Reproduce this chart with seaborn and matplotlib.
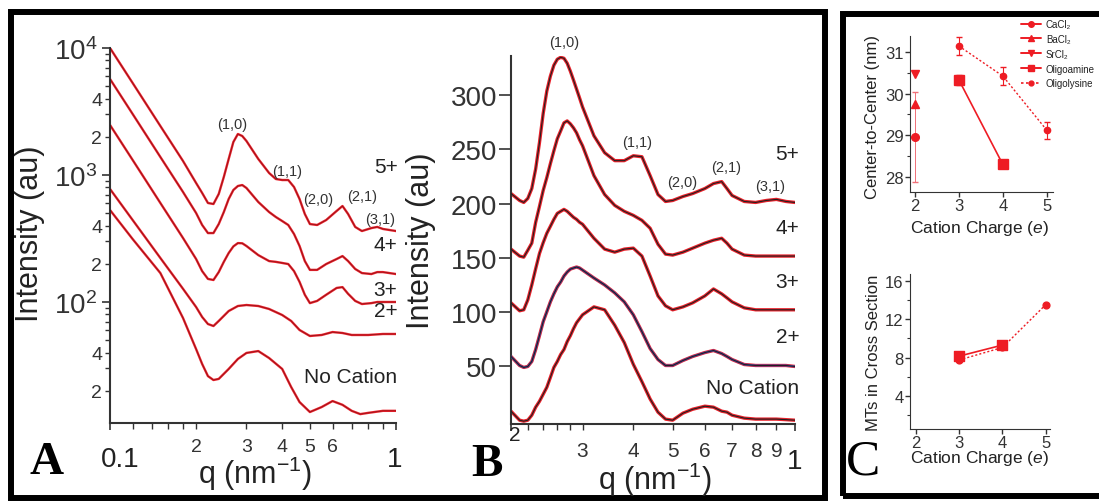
import matplotlib
matplotlib.use("Agg")
import matplotlib.pyplot as plt
import seaborn as sns
from matplotlib.patches import Rectangle
from matplotlib.lines import Line2D
from matplotlib.ticker import FixedLocator, FixedFormatter

# ---- panel A: log-log profiles, q in nm^-1 ----
qA_hi = [0.10, 0.12, 0.15, 0.18, 0.20, 0.21, 0.22, 0.23, 0.24, 0.25, 0.26, 0.27, 0.28, 0.29, 0.30, 0.33, 0.36,
         0.38, 0.40, 0.42, 0.44, 0.46, 0.48, 0.50, 0.53, 0.57, 0.62, 0.65, 0.68, 0.72, 0.76, 0.82, 0.86, 0.90, 1.00]
A_5 = [10000, 5302, 2431, 1289, 865, 722, 602, 591, 709, 965, 1337, 1819, 2103, 2028, 1852, 1337, 1037,
       930, 913, 913, 804, 647, 493, 411, 404, 442, 521, 570, 493, 390, 362, 382, 390, 376, 362]
A_4 = [5700, 3022, 1386, 735, 502, 404, 349, 349, 411, 511, 647, 762, 819, 834, 790, 613, 511,
       467, 434, 404, 343, 276, 210, 179, 179, 199, 218, 230, 210, 182, 169, 166, 172, 172, 166]
A_3 = [2476, 1313, 602, 319, 218, 175, 152, 149, 172, 207, 243, 274, 291, 290, 276, 234, 210,
       207, 203, 199, 175, 144, 114, 98, 102, 114, 129, 131, 116, 102, 96.4, 98, 100, 100, 100]
qA_lo = [0.10, 0.12, 0.15, 0.18, 0.20, 0.21, 0.22, 0.23, 0.24, 0.26, 0.28, 0.30, 0.33, 0.36, 0.40,
         0.43, 0.46, 0.50, 0.55, 0.60, 0.65, 0.70, 0.75, 0.80, 0.90, 1.00]
A_2 = [776, 442, 222, 127, 91.3, 76.2, 67.1, 64.7, 70.9, 84.9, 93.0, 94.7, 93.0, 88.1, 79.0,
       70.9, 60.2, 54.0, 55.0, 58.0, 57.0, 55.0, 55.0, 55.0, 56.0, 56.0]
A_0 = [530, 313, 169, 74.8, 42.6, 32.5, 26.1, 24.3, 24.8, 29.7, 35.6, 39.7, 41.1, 36.2, 29.7,
       21.4, 16.3, 13.6, 14.9, 16.6, 15.5, 13.9, 13.1, 13.4, 13.9, 13.9]

# ---- panel B: log q, linear intensity (offset by 50 per curve) ----
qB = [0.20, 0.21, 0.215, 0.22, 0.225, 0.23, 0.235, 0.24, 0.245, 0.25, 0.255, 0.26, 0.265, 0.27, 0.275,
      0.28, 0.285, 0.29, 0.295, 0.30, 0.32, 0.34, 0.36, 0.38, 0.40, 0.42, 0.44, 0.46, 0.48, 0.50,
      0.53, 0.56, 0.60, 0.63, 0.66, 0.68, 0.70, 0.75, 0.80, 0.85, 0.90, 0.95, 1.00]
B_5 = [209.3, 202.9, 201.1, 204.8, 213.9, 232, 256.1, 283, 303.7, 317.4, 327.5, 333, 334.8, 333.9, 329.3,
       322, 313.8, 305.5, 297.3, 289, 262.5, 246.9, 239.6, 239.6, 244.1, 243.2, 225.8, 208.4, 202, 202.9,
       206.6, 209.3, 213.9, 218.5, 220.3, 213.9, 207.5, 202, 201.1, 202.9, 203.9, 202, 201.1]
B_4 = [158.1, 151.7, 150.7, 157.1, 163.6, 182.8, 197.4, 212.1, 224, 236.8, 248.7, 259.7, 267, 274.4, 276.2,
       273.5, 269.8, 265.2, 258.8, 253.3, 225.8, 208.4, 198.4, 192.9, 189.2, 184.6, 177.3, 162.6, 153.5, 152.6,
       155.3, 159, 163.6, 166.3, 168.1, 163.6, 158.1, 152.6, 151.7, 151.7, 151.7, 151.7, 151.7]
B_3 = [108.6, 101.3, 102.2, 111.4, 125.1, 140, 154, 164, 172.7, 179.1, 185.5, 191, 192.9, 194.7, 192.9,
       190.1, 187.4, 185.5, 182.8, 181, 168.1, 158.1, 155.3, 158.1, 159, 151.7, 133.3, 115, 105.9, 102.2,
       104.9, 108.6, 115, 121.4, 116.9, 113.2, 109.5, 104, 102.2, 102.2, 102.2, 102.2, 102.2]
B_2 = [59.2, 50.9, 49.1, 50, 54.6, 65.6, 78.4, 91.2, 100.4, 109.5, 116.9, 123.3, 127.8, 133.3, 137,
       139.7, 140.7, 141.6, 140.7, 138.8, 131.5, 125.1, 117.8, 109.5, 97.6, 82.1, 66.5, 56.4, 50.9, 50.9,
       55.5, 59.2, 62.8, 64.7, 61.9, 59.2, 56.4, 51.8, 50.9, 50.9, 50.9, 50.9, 50]
B_0 = [8.8, 0.5, -0.4, 0.5, 5.1, 12.5, 17.9, 24.4, 30.8, 39.9, 49.1, 54.6, 61, 65.6, 72.9,
       78.4, 84.8, 90.3, 94, 97.6, 104.9, 102.2, 88, 72, 52, 36, 20, 7.9, 1.5, 0.5,
       7, 10.6, 13.4, 12.5, 8.8, 7.9, 5.1, 2.4, 1.5, 1.5, 1.5, 1.0, 0.5]

# ---- panel C ----
salt_charge = [2, 2, 2]
salt_names = ["CaCl₂", "BaCl₂", "SrCl₂"]
salt_cc = [28.95, 29.75, 30.48]
salt_err = [1.08, 0.0, 0.0]
amine_charge = [3, 4]
amine_cc = [30.33, 28.3]
amine_cc_err = [0.12, 0.08]
amine_mts = [8.15, 9.3]
lysine_charge = [3, 4, 5]
lysine_cc = [31.14, 30.42, 29.12]
lysine_cc_err = [0.22, 0.22, 0.2]
lysine_mts = [7.75, 9.05, 13.5]

W, H = 1099, 502
RED = "#e8202a"
CRED = "#ee1c24"
INK = "#222222"

sns.set_style("ticks")
plt.rcParams["font.family"] = ["Liberation Sans", "DejaVu Sans"]
plt.rcParams["mathtext.fontset"] = "custom"
plt.rcParams["mathtext.rm"] = "Liberation Sans"
plt.rcParams["mathtext.it"] = "Liberation Sans:italic"
plt.rcParams["axes.edgecolor"] = "#333333"
plt.rcParams["xtick.color"] = "#333333"
plt.rcParams["ytick.color"] = "#333333"
plt.rcParams["text.color"] = INK

fig = plt.figure(figsize=(W / 100, H / 100), dpi=100)
fig.patch.set_facecolor("white")


def box(px0, py_top, px1, py_bot):
    return [px0 / W, 1 - py_bot / H, (px1 - px0) / W, (py_bot - py_top) / H]


def trace(ax, x, y, color, lw, z, alpha=1.0):
    sns.lineplot(x=x, y=y, ax=ax, color=color, lw=lw, zorder=z, alpha=alpha,
                 sort=False, legend=False)


def ftext(px, py, s, **kw):
    fig.text(px / W, 1 - py / H, s, **kw)


# ---------------- A ----------------
axA = fig.add_axes(box(110, 49, 396, 424))
for q, y in [(qA_hi, A_5), (qA_hi, A_4), (qA_hi, A_3), (qA_lo, A_2), (qA_lo, A_0)]:
    trace(axA, q, y, RED, 1.7, 2)
    trace(axA, q, y, "#200000", 0.4, 3, 0.55)
axA.set_xscale("log")
axA.set_yscale("log")
axA.set_xlim(0.1, 1.0)
axA.set_ylim(11.15, 1e4)
axA.yaxis.set_major_locator(FixedLocator([1e2, 1e3, 1e4]))
axA.yaxis.set_major_formatter(FixedFormatter(["$10^{2}$", "$10^{3}$", "$10^{4}$"]))
yminor = [k * d for d in (10, 100, 1000) for k in range(2, 10)]
axA.yaxis.set_minor_locator(FixedLocator(yminor))
axA.yaxis.set_minor_formatter(FixedFormatter([str(k) if k in (2, 4) else "" for d in (10, 100, 1000) for k in range(2, 10)]))
axA.xaxis.set_major_locator(FixedLocator([0.1, 1.0]))
axA.xaxis.set_major_formatter(FixedFormatter(["", ""]))
xminorA = [0.12, 0.14, 0.16, 0.18, 0.2, 0.3, 0.4, 0.5, 0.6, 0.7, 0.8, 0.9]
axA.xaxis.set_minor_locator(FixedLocator(xminorA))
axA.xaxis.set_minor_formatter(FixedFormatter(["", "", "", "", "2", "3", "4", "5", "6", "", "", ""]))
axA.tick_params(axis="y", which="major", labelsize=20, length=6, width=1.2, pad=3)
axA.tick_params(axis="y", which="minor", labelsize=14, length=3.5, width=1, pad=2)
axA.tick_params(axis="x", which="major", length=5, width=1.2)
axA.tick_params(axis="x", which="minor", labelsize=14, length=4, width=1, pad=7)
sns.despine(ax=axA)
for s in axA.spines.values():
    s.set_linewidth(1.5)
axA.set_xlabel("")
axA.set_ylabel("")

annA = [("(1,0)", 0.426, 0.797), ("(1,1)", 0.619, 0.672), ("(2,0)", 0.727, 0.597),
        ("(2,1)", 0.881, 0.605), ("(3,1)", 0.944, 0.544)]
for s, fx, fy in annA:
    axA.text(fx, fy, s, transform=axA.transAxes, fontsize=10.5, ha="center", va="center", color="#333333")
for s, fy in [("5+", 0.683), ("4+", 0.477), ("3+", 0.357), ("2+", 0.301), ("No Cation", 0.123)]:
    axA.text(1.005, fy, s, transform=axA.transAxes, fontsize=15, ha="right", va="center")

ftext(120, 460, "0.1", fontsize=20, ha="center", va="center")
ftext(395, 460, "1", fontsize=20, ha="center", va="center")
ftext(30, 234, "Intensity (au)", fontsize=22, rotation=90, ha="center", va="center")
ftext(255, 474, "q (nm$^{-1}$)", fontsize=22, ha="center", va="center")

# ---------------- B ----------------
axB = fig.add_axes(box(511, 57, 795, 425))
for y in [B_5, B_4, B_3, B_2, B_0]:
    trace(axB, qB, y, RED, 2.4, 2)
    if y is B_2:
        trace(axB, qB, y, "#3050d0", 1.5, 3, 0.8)
    trace(axB, qB, y, "#202020", 0.8, 4)
axB.set_xscale("log")
axB.set_xlim(0.2, 1.0)
axB.set_ylim(-3, 336)
axB.yaxis.set_major_locator(FixedLocator([50, 100, 150, 200, 250, 300]))
axB.yaxis.set_major_formatter(FixedFormatter(["50", "100", "150", "200", "250", "300"]))
axB.xaxis.set_major_locator(FixedLocator([0.2, 1.0]))
axB.xaxis.set_major_formatter(FixedFormatter(["", ""]))
xminorB = [0.22, 0.24, 0.26, 0.28, 0.3, 0.4, 0.5, 0.6, 0.7, 0.8, 0.9]
axB.xaxis.set_minor_locator(FixedLocator(xminorB))
axB.xaxis.set_minor_formatter(FixedFormatter(["", "", "", "", "3", "4", "5", "6", "7", "8", "9"]))
axB.tick_params(axis="y", which="major", labelsize=20, length=9, width=1.2, pad=1)
axB.tick_params(axis="y", which="minor", length=0)
axB.tick_params(axis="x", which="major", length=5, width=1.2)
axB.tick_params(axis="x", which="minor", labelsize=15, length=4, width=1, pad=8)
sns.despine(ax=axB)
for s in axB.spines.values():
    s.set_linewidth(1.5)
axB.set_xlabel("")
axB.set_ylabel("")

annB = [("(1,0)", 0.187, 1.038), ("(1,1)", 0.444, 0.766), ("(2,0)", 0.602, 0.658),
        ("(2,1)", 0.757, 0.698), ("(3,1)", 0.912, 0.647)]
for s, fx, fy in annB:
    axB.text(fx, fy, s, transform=axB.transAxes, fontsize=10.5, ha="center", va="center", color="#333333")
for s, fy in [("5+", 0.734), ("4+", 0.535), ("3+", 0.386), ("2+", 0.239), ("No Cation", 0.10)]:
    axB.text(1.015, fy, s, transform=axB.transAxes, fontsize=15, ha="right", va="center")

ftext(515, 436, "2", fontsize=15, ha="center", va="center")
ftext(795, 462, "1", fontsize=20, ha="center", va="center")
ftext(421, 241, "Intensity (au)", fontsize=22, rotation=90, ha="center", va="center")
ftext(655, 480, "q (nm$^{-1}$)", fontsize=22, ha="center", va="center")

# ---------------- C top ----------------
axC1 = fig.add_axes(box(910, 37, 1053, 193))
salt_markers = ["o", "^", "v"]
for x, y, e, m in zip(salt_charge, salt_cc, salt_err, salt_markers):
    axC1.errorbar([x], [y], yerr=[e] if e > 0 else None, fmt=m, color=CRED, ms=5.5,
                  elinewidth=0.7, ecolor="#f07078", capsize=2, zorder=4)
trace(axC1, amine_charge, amine_cc, CRED, 1.2, 3)
axC1.errorbar(amine_charge, amine_cc, yerr=amine_cc_err, fmt="s", color=CRED, ms=7,
              elinewidth=0.8, capsize=2, zorder=4)
sns.lineplot(x=lysine_charge, y=lysine_cc, ax=axC1, color=CRED, lw=1.0, ls=(0, (1.5, 1.5)),
             zorder=3, sort=False, legend=False)
axC1.errorbar(lysine_charge, lysine_cc, yerr=lysine_cc_err, fmt="o", color=CRED, ms=4.5,
              elinewidth=0.8, capsize=2, zorder=4)
axC1.set_xlim(1.89, 5.14)
axC1.set_ylim(27.64, 31.38)
axC1.set_xticks([2, 3, 4, 5])
axC1.set_yticks([28, 29, 30, 31])
axC1.yaxis.set_minor_locator(FixedLocator([28.5, 29.5, 30.5]))
axC1.tick_params(which="major", labelsize=12, length=3.5, width=1, pad=1)
axC1.tick_params(which="minor", length=2, width=0.8)
sns.despine(ax=axC1)
axC1.set_xlabel("")
axC1.set_ylabel("")
ftext(980, 229, "Cation Charge ($e$)", fontsize=12.5, ha="center", va="center")
ftext(873, 117, "Center-to-Center (nm)", fontsize=12, rotation=90, ha="center", va="center")

handles = [
    Line2D([], [], color=CRED, marker="o", ms=4, lw=1.4),
    Line2D([], [], color=CRED, marker="^", ms=4, lw=1.4),
    Line2D([], [], color=CRED, marker="v", ms=4, lw=1.4),
    Line2D([], [], color=CRED, marker="s", ms=4.5, lw=1.4),
    Line2D([], [], color=CRED, marker="o", ms=3.5, lw=1.2, ls=(0, (1.5, 1.5))),
]
labels = salt_names + ["Oligoamine", "Oligolysine"]
fig.legend(handles, labels, loc="upper left", bbox_to_anchor=(1021 / W, 1 - 20 / H),
           frameon=False, fontsize=7, handlelength=2.1, handletextpad=0.45,
           labelspacing=0.5, borderpad=0, borderaxespad=0)

# ---------------- C bottom ----------------
axC2 = fig.add_axes(box(910, 275, 1050, 430))
trace(axC2, amine_charge, amine_mts, CRED, 1.2, 3)
axC2.scatter(amine_charge, amine_mts, marker="s", s=48, color=CRED, zorder=4)
sns.lineplot(x=lysine_charge, y=lysine_mts, ax=axC2, color=CRED, lw=1.0, ls=(0, (1.5, 1.5)),
             zorder=3, sort=False, legend=False)
axC2.scatter(lysine_charge, lysine_mts, marker="o", s=24, color=CRED, zorder=4)
axC2.set_xlim(1.86, 5.1)
axC2.set_ylim(0.56, 16.7)
axC2.set_xticks([2, 3, 4, 5])
axC2.set_yticks([4, 8, 12, 16])
axC2.yaxis.set_minor_locator(FixedLocator([2, 6, 10, 14]))
axC2.tick_params(which="major", labelsize=12, length=3.5, width=1, pad=1)
axC2.tick_params(which="minor", length=2, width=0.8)
sns.despine(ax=axC2)
axC2.set_xlabel("")
axC2.set_ylabel("")
ftext(980, 459, "Cation Charge ($e$)", fontsize=12.5, ha="center", va="center")
ftext(873, 353, "MTs in Cross Section", fontsize=12, rotation=90, ha="center", va="center")

# ---------------- panel letters and frames ----------------
ftext(47, 463, "A", fontsize=34, fontweight="bold", family="Liberation Serif", ha="center", va="center", color="black")
ftext(487, 465, "B", fontsize=34, fontweight="bold", family="Liberation Serif", ha="center", va="center", color="black")
ftext(863, 462, "C", fontsize=37, family="Liberation Serif", ha="center", va="center", color="black")

fig.add_artist(Rectangle((11 / W, 1 - 499 / H), (825 - 11) / W, (499 - 13) / H,
                         transform=fig.transFigure, fill=False, lw=4.3, ec="black"))
fig.add_artist(Rectangle((843 / W, 1 - 497 / H), (1110 - 843) / W, (497 - 15) / H,
                         transform=fig.transFigure, fill=False, lw=4.3, ec="black"))

fig.savefig("out.png", dpi=100)
